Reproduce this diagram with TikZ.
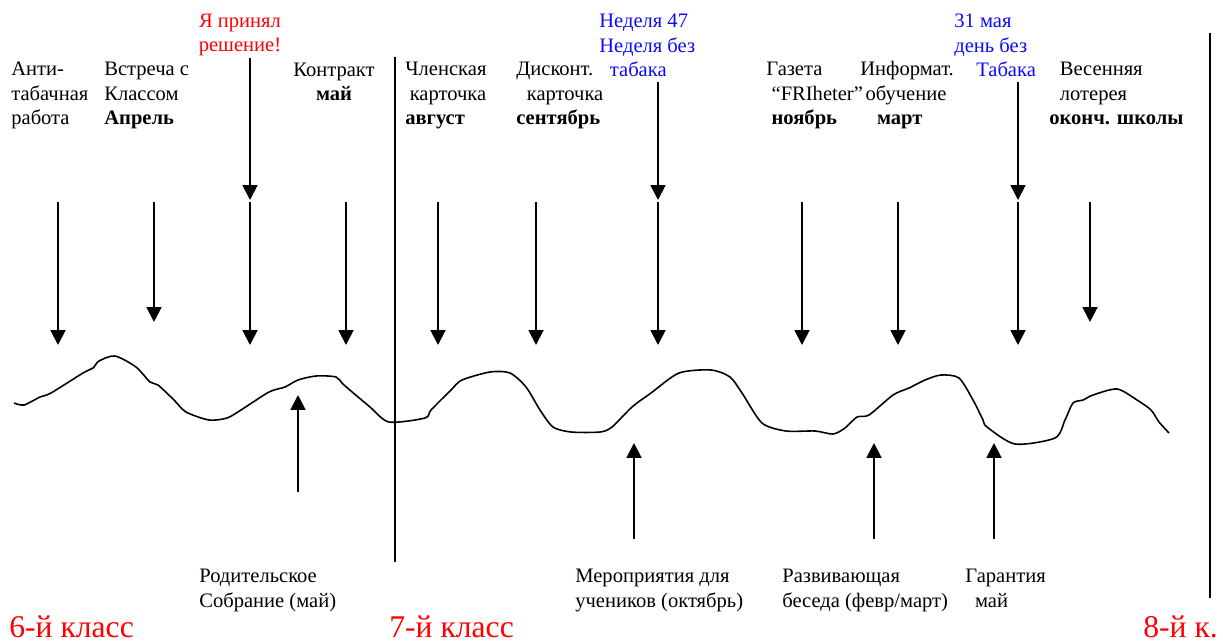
\documentclass[tikz,border=0pt]{standalone}
\usepackage{fontspec}
\setmainfont{Liberation Serif}
\usepackage{tikz}
\usetikzlibrary{arrows.meta}
\definecolor{grd}{RGB}{255,0,0}
\definecolor{wk}{RGB}{10,10,255}

\begin{document}
\begin{tikzpicture}[x=0.02cm,y=-0.02cm,>={Triangle[width=8.5pt,length=8.5pt]},
  lbl/.style={font=\fontsize{11.7}{14}\selectfont,align=left,inner sep=0pt,anchor=base west},
  grade/.style={font=\fontsize{18}{20}\selectfont,text=grd,inner sep=0pt,anchor=base west},
  arr/.style={->,line width=1.1pt}]
  \useasboundingbox (0,0) rectangle (1223,642);
  % year separators
  \draw[line width=1pt] (395,57) -- (395,562);
  \draw[line width=1.1pt] (1210,33) -- (1210,598);
  % labels on top (placed by their last line)
  \node[lbl] (anti) at (11,125) {Анти-\\табачная\\работа};
  \node[lbl] (vstr) at (104,125) {Встреча с\\Классом\\\textbf{Апрель}};
  \node[lbl,align=center,anchor=base] (kontr) at (334,101) {Контракт\\\textbf{май}};
  \node[lbl,align=center,anchor=base,text=grd] (resh) at (240,52) {Я принял\\решение!};
  \node[lbl] (chlen) at (405,125) {Членская\\\hspace*{2.5pt}карточка\\\textbf{август}};
  \node[lbl] (disk) at (516,125) {Дисконт.\\\hspace*{6pt}карточка\\\textbf{сентябрь}};
  \node[lbl,text=wk] (ned) at (599,77) {Неделя 47\\Неделя без\\\hspace*{6pt}табака};
  \node[lbl] (gaz) at (766,125) {Газета\\\hspace*{3pt}“FRIheter”\\\hspace*{3pt}\textbf{ноябрь}};
  \node[lbl] (inf) at (860,125) {Информат.\\\hspace*{3pt}обучение\\\hspace*{9.5pt}\textbf{март}};
  \node[lbl,text=wk] (dbt) at (954,77) {31 мая\\день без\\\hspace*{12.5pt}Табака};
  \node[lbl] (ves) at (1049,125) {\hspace*{6pt}Весенняя\\\hspace*{6pt}лотерея\\\textbf{оконч. школы}};
  % labels below
  \node[lbl] (rod) at (199,607) {Родительское\\Собрание (май)};
  \node[lbl] (mer) at (575,607) {Мероприятия для\\учеников (октябрь)};
  \node[lbl] (razv) at (782,607) {Развивающая\\беседа (февр/март)};
  \node[lbl] (gar) at (965,607) {Гарантия\\\hspace*{5.5pt}май};
  \node[grade] (g6) at (9,637) {6-й класс};
  \node[grade] (g7) at (389,637) {7-й класс};
  \node[grade] (g8) at (1143,637) {8-й к.};
  % the curve
  \draw[line width=0.9pt] plot[smooth,tension=0.45] coordinates {(14,403) (24,405) (40,397) (51,393) (83,373) (93,368) (99,361) (115,356) (136,367) (150,382) (158,385) (174,400) (186,412) (209,420) (227,418) (241,410) (269,392) (285,387) (298,380) (316,376) (336,377) (344,385) (370,407) (389,422) (425,418) (431,410) (451,390) (462,380) (490,372) (510,373) (526,387) (540,410) (553,427) (571,432) (600,432) (612,427) (632,407) (651,393) (679,373) (711,370) (730,377) (742,393) (762,423) (786,431) (815,431) (833,434) (845,428) (857,417) (869,415) (893,395) (909,388) (925,380) (941,375) (959,378) (973,400) (983,420) (987,427) (1015,444) (1055,438) (1065,420) (1073,403) (1083,400) (1093,395) (1117,389) (1137,400) (1151,410) (1159,422) (1169,433)};
  % arrows down to the curve
  \foreach \x/\e in {58/345,154/322,250/345,346/345,438/345,536/345,658/345,802/345,898/345,1018/345,1090/322} {
    \coordinate (dt\x) at (\x,202); \coordinate (db\x) at (\x,\e);
    \draw[arr] (dt\x) -- (db\x); }
  \foreach \x/\s in {250/58,658/82,1018/82} {
    \coordinate (tt\x) at (\x,\s); \coordinate (tb\x) at (\x,200);
    \draw[arr] (tt\x) -- (tb\x); }
  % arrows up from below
  \foreach \x/\b/\t in {298/492/395,634/539/443,874/539/443,994/539/443} {
    \coordinate (ub\x) at (\x,\b); \coordinate (ut\x) at (\x,\t);
    \draw[arr] (ub\x) -- (ut\x); }
\end{tikzpicture}
\end{document}
